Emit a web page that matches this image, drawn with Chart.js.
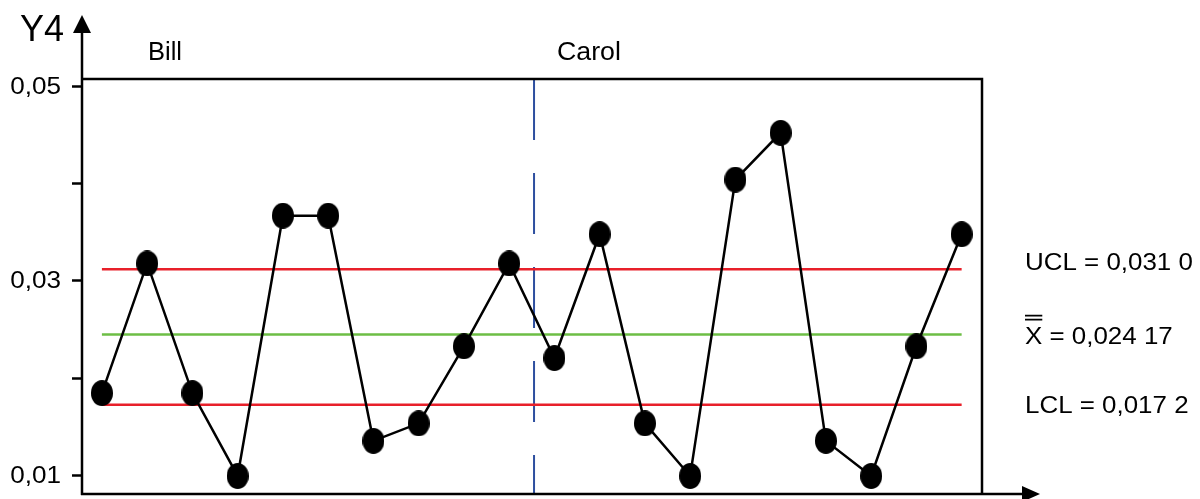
<!DOCTYPE html>
<html>
<head>
<meta charset="utf-8">
<script src="https://cdn.jsdelivr.net/npm/chart.js@4/dist/chart.umd.min.js"></script>
<style>
  body { margin: 0; background: #fff; }
  canvas { display: block; }
</style>
</head>
<body>
<canvas id="myChart" width="1200" height="499"></canvas>
<script>
'use strict';

// samples 1..20, first ten by Bill, last ten by Carol
var samples = [1, 2, 3, 4, 5, 6, 7, 8, 9, 10, 11, 12, 13, 14, 15, 16, 17, 18, 19, 20];
var y4Values = [0.0185, 0.0318, 0.0185, 0.0100, 0.0367, 0.0367, 0.0136, 0.0154, 0.0233, 0.0318,
                0.0221, 0.0348, 0.0154, 0.0100, 0.0404, 0.0452, 0.0136, 0.0100, 0.0233, 0.0348];
var operators = ['Bill', 'Carol'];
var yTicks = [0.01, 0.02, 0.03, 0.04, 0.05];
var labelledTicks = [0.01, 0.03, 0.05];

var ucl = 0.0312;
var centre = 0.0245;
var lcl = 0.0173;
var limitTexts = ['UCL = 0,031 0', '= 0,024 17', 'LCL = 0,017 2'];

var splitAt = 10.55; // operator change between sample 10 and 11

var yMin = 0.00815;
var yMax = 0.05072;
var xMin = 0.56;
var xMax = 20.45;

var FONT = '"Liberation Sans", Arial, sans-serif';

// black ellipse marker, a bit taller than wide
var dot = document.createElement('canvas');
dot.width = 22;
dot.height = 26;
var dctx = dot.getContext('2d');
dctx.fillStyle = '#000';
dctx.beginPath();
dctx.ellipse(11, 13, 11, 13, 0, 0, Math.PI * 2);
dctx.fill();

function flatLine(value) {
  return [{x: samples[0], y: value}, {x: samples[samples.length - 1], y: value}];
}

// text drawn a little wider, like the original
function wideText(ctx, text, x, y, stretch, align) {
  ctx.save();
  ctx.translate(x, y);
  ctx.scale(stretch, 1);
  ctx.textAlign = align || 'left';
  ctx.fillText(text, 0, 0);
  ctx.restore();
}

var extras = {
  id: 'extras',
  afterDraw: function(chart) {
    var ctx = chart.ctx;
    var area = chart.chartArea;
    var ys = chart.scales.y;
    ctx.save();
    ctx.strokeStyle = '#000';
    ctx.fillStyle = '#000';
    ctx.lineWidth = 2.5;

    // frame: top and right side
    ctx.beginPath();
    ctx.moveTo(area.left, area.top);
    ctx.lineTo(area.right, area.top);
    ctx.lineTo(area.right, area.bottom);
    ctx.stroke();

    // y axis with arrow
    ctx.beginPath();
    ctx.moveTo(area.left, area.bottom + 1);
    ctx.lineTo(area.left, 30);
    ctx.stroke();
    ctx.beginPath();
    ctx.moveTo(area.left, 15);
    ctx.lineTo(area.left - 9, 33);
    ctx.lineTo(area.left + 9, 33);
    ctx.closePath();
    ctx.fill();

    // x axis with arrow
    ctx.beginPath();
    ctx.moveTo(area.left - 1, area.bottom);
    ctx.lineTo(1025, area.bottom);
    ctx.stroke();
    ctx.beginPath();
    ctx.moveTo(1040, area.bottom);
    ctx.lineTo(1022, area.bottom - 8);
    ctx.lineTo(1022, area.bottom + 8);
    ctx.closePath();
    ctx.fill();

    // y tick labels
    ctx.textBaseline = 'middle';
    ctx.font = '23.5px ' + FONT;
    labelledTicks.forEach(function(v) {
      wideText(ctx, v.toFixed(2).replace('.', ','), 61, ys.getPixelForValue(v) + 1, 1.11, 'right');
    });

    // titles
    ctx.textBaseline = 'alphabetic';
    ctx.font = '36px ' + FONT;
    ctx.fillText('Y4', 20, 41);
    ctx.font = '25px ' + FONT;
    wideText(ctx, operators[0], 148, 60, 1.02);
    wideText(ctx, operators[1], 557, 60, 1.07);

    // limit labels
    ctx.font = '24px ' + FONT;
    ctx.textBaseline = 'middle';
    var tx = 1025;
    var st = 1.08;
    wideText(ctx, limitTexts[0], tx, ys.getPixelForValue(ucl) - 6, st);
    var my = ys.getPixelForValue(centre) + 3;
    wideText(ctx, 'X', tx, my, st);
    var xw = ctx.measureText('X').width * st;
    wideText(ctx, ' ' + limitTexts[1], tx + xw, my, st);
    wideText(ctx, limitTexts[2], tx, ys.getPixelForValue(lcl) + 2, st);
    ctx.lineWidth = 1.8;
    ctx.beginPath();
    ctx.moveTo(tx, my - 18);
    ctx.lineTo(tx + xw, my - 18);
    ctx.moveTo(tx, my - 22);
    ctx.lineTo(tx + xw, my - 22);
    ctx.stroke();
    ctx.restore();
  }
};

var ctx = document.getElementById('myChart').getContext('2d');
var chart = new Chart(ctx, {
  type: 'scatter',
  data: {
    datasets: [
      {
        label: 'Y4',
        data: samples.map(function(s, i) { return {x: s, y: y4Values[i]}; }),
        showLine: true,
        borderColor: '#000',
        borderWidth: 2.5,
        pointStyle: dot,
        pointRadius: 11,
        order: 0
      },
      {
        label: 'UCL',
        data: flatLine(ucl),
        showLine: true,
        borderColor: '#E8202A',
        borderWidth: 2.5,
        pointRadius: 0,
        order: 2
      },
      {
        label: 'centre',
        data: flatLine(centre),
        showLine: true,
        borderColor: '#6DBE45',
        borderWidth: 2.5,
        pointRadius: 0,
        order: 2
      },
      {
        label: 'LCL',
        data: flatLine(lcl),
        showLine: true,
        borderColor: '#E8202A',
        borderWidth: 2.5,
        pointRadius: 0,
        order: 2
      },
      {
        label: 'split',
        data: [{x: splitAt, y: yMax}, {x: splitAt, y: yMin}],
        showLine: true,
        borderColor: '#2E4F9F',
        borderWidth: 2,
        borderDash: [61, 33],
        pointRadius: 0,
        order: 3
      }
    ]
  },
  options: {
    responsive: false,
    animation: false,
    events: [],
    layout: {autoPadding: false, padding: {left: 0, top: 79, right: 218, bottom: 5}},
    plugins: {legend: {display: false}, tooltip: {enabled: false}},
    scales: {
      x: {
        type: 'linear',
        display: false,
        min: xMin,
        max: xMax
      },
      y: {
        min: yMin,
        max: yMax,
        afterFit: function(scale) {
          scale.width = 82;
          scale.paddingTop = 0;
          scale.paddingBottom = 0;
        },
        afterBuildTicks: function(scale) {
          scale.ticks = yTicks.map(function(v) { return {value: v}; });
        },
        border: {display: false},
        grid: {
          drawOnChartArea: false,
          drawTicks: true,
          tickLength: 10,
          tickColor: '#000',
          tickWidth: 2.5
        },
        ticks: {display: false}
      }
    }
  },
  plugins: [extras]
});
</script>
</body>
</html>
